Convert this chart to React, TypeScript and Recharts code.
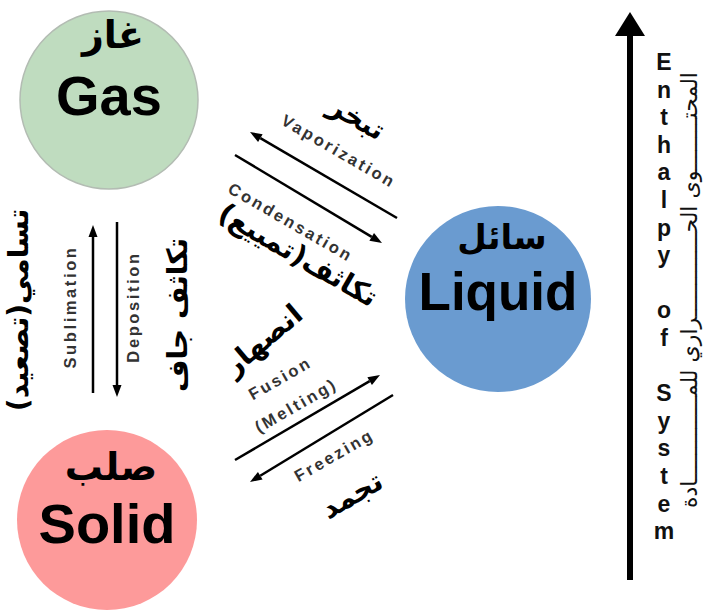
import React from 'react';
import { ReferenceLine, Scatter, ScatterChart, XAxis, YAxis } from 'recharts';

const W = 707;
const H = 612;

// states of matter
const stateEn = ['Gas', 'Liquid', 'Solid'];
const stateAr = ['غاز', 'سائل', 'صلب'];
const stateX = [109, 498, 107];
const stateY = [100, 299, 520];

// phase change arrows (from -> to)
const arrowFromX = [397, 235, 93, 117, 235, 393];
const arrowFromY = [218, 155, 393, 222, 460, 395];
const arrowToX = [250, 382, 93, 117, 380, 250];
const arrowToY = [132, 243, 225, 397, 375, 482];

// process labels
const labelText = [
  'Vaporization', 'Condensation', 'Sublimation', 'Deposition', 'Fusion', '(Melting)', 'Freezing',
  'تبخر', 'تكاثف(تمييع)', 'تسامي(تصعيد)', 'تكاثف جاف', 'انصهار', 'تجمد',
];
const labelX = [339, 291, 70, 133, 280, 296, 334, 357, 298, 18, 177, 263, 352];
const labelY = [151, 222, 307, 307, 378, 405, 455, 118, 255, 310, 315, 340, 495];

// enthalpy axis
const enthalpyEn = 'Enthalpy of System';
const enthalpyAr = 'المحتــــــــوى الحـــــــــــــراري للمـــــــــــــادة';

const EN = '"Liberation Sans", Arial, sans-serif';
const AR = '"DejaVu Sans", sans-serif';

const stateStyle = [
  { fill: '#bfdcbf', stroke: '#b3bcb3', r: 89, arDy: -52, enDy: 15, arSize: 38, enSize: 56 },
  { fill: '#6a9bd0', stroke: 'none', r: 93, arDy: -50, enDy: 11, arSize: 34, enSize: 53 },
  { fill: '#fd9a9a', stroke: 'none', r: 90, arDy: -40, enDy: 23, arSize: 38, enSize: 56 },
];
const labelRot = [30, 30, -90, -90, -30, -30, -30, 30, 30, -90, -90, -40, -30];

const stateData = stateEn.map((name, i) => ({ x: stateX[i], y: stateY[i], name, ar: stateAr[i], i }));
const labelData = labelText.map((text, i) => ({ x: labelX[i], y: labelY[i], text, i }));

const StateShape = (p: any) => {
  const { cx, cy, payload } = p;
  const s = stateStyle[payload.i];
  return (
    <g>
      <circle cx={cx} cy={cy} r={s.r} fill={s.fill} stroke={s.stroke} strokeWidth={1.5} />
      <text x={cx + 4} y={cy + s.arDy} textAnchor="middle" direction="rtl" fontFamily={AR} fontWeight="bold" fontSize={s.arSize} fill="#000">
        {payload.ar}
      </text>
      <text x={cx} y={cy + s.enDy} textAnchor="middle" fontFamily={EN} fontWeight="bold" fontSize={s.enSize} fill="#000">
        {payload.name}
      </text>
    </g>
  );
};

const LabelShape = (p: any) => {
  const { cx, cy, payload } = p;
  const ar = payload.i >= 7;
  return (
    <text
      x={cx}
      y={cy}
      transform={`rotate(${labelRot[payload.i]} ${cx} ${cy})`}
      textAnchor="middle"
      dominantBaseline="central"
      direction={ar ? 'rtl' : 'ltr'}
      fontFamily={ar ? AR : EN}
      fontWeight="bold"
      fontSize={ar ? 28 : 16.5}
      letterSpacing={ar ? 0 : 2.6}
      fill={ar ? '#000' : '#333'}
    >
      {payload.text}
    </text>
  );
};

const arrowShape = (head: number, half: number, width: number) => (p: any) => {
  const { x1, y1, x2, y2 } = p;
  const a = Math.atan2(y2 - y1, x2 - x1);
  const bx = x2 - head * Math.cos(a);
  const by = y2 - head * Math.sin(a);
  const nx = -Math.sin(a) * half;
  const ny = Math.cos(a) * half;
  return (
    <g>
      <line x1={x1} y1={y1} x2={bx} y2={by} stroke="#000" strokeWidth={width} />
      <polygon points={`${x2},${y2} ${bx + nx},${by + ny} ${bx - nx},${by - ny}`} fill="#000" />
    </g>
  );
};

const EnthalpyShape = (p: any) => {
  const { cx, cy } = p;
  return (
    <g>
      <text x={cx} y={cy} textAnchor="middle" fontFamily={EN} fontWeight="bold" fontSize={23} fill="#111">
        {enthalpyEn.split('').map((c, i) => (
          <tspan key={i} x={cx} dy={i === 0 ? 0 : 27.6}>
            {c === ' ' ? '\u00a0' : c}
          </tspan>
        ))}
      </text>
      <text
        x={697}
        y={290}
        transform="rotate(-90 697 290)"
        textAnchor="middle"
        direction="rtl"
        fontFamily={AR}
        fontSize={22}
        fill="#111"
      >
        {enthalpyAr}
      </text>
    </g>
  );
};

export default function App() {
  return (
    <div style={{ position: 'absolute', left: 0, top: 0, width: W, height: H, background: '#fff' }}>
      <ScatterChart width={W} height={H} margin={{ top: 0, right: 0, bottom: 0, left: 0 }}>
        <XAxis type="number" dataKey="x" domain={[0, W]} hide allowDataOverflow />
        <YAxis type="number" dataKey="y" domain={[0, H]} reversed hide allowDataOverflow width={0} />
        {arrowFromX.map((fx, i) => (
          <ReferenceLine
            key={i}
            segment={[
              { x: fx, y: arrowFromY[i] },
              { x: arrowToX[i], y: arrowToY[i] },
            ]}
            shape={arrowShape(12, 4.5, 2.5)}
            ifOverflow="visible"
          />
        ))}
        <ReferenceLine
          segment={[
            { x: 630, y: 580 },
            { x: 630, y: 12 },
          ]}
          shape={arrowShape(24, 15, 6)}
          ifOverflow="visible"
        />
        <Scatter data={stateData} shape={StateShape} isAnimationActive={false} />
        <Scatter data={labelData} shape={LabelShape} isAnimationActive={false} />
        <Scatter data={[{ x: 664, y: 70 }]} shape={EnthalpyShape} isAnimationActive={false} />
      </ScatterChart>
    </div>
  );
}
